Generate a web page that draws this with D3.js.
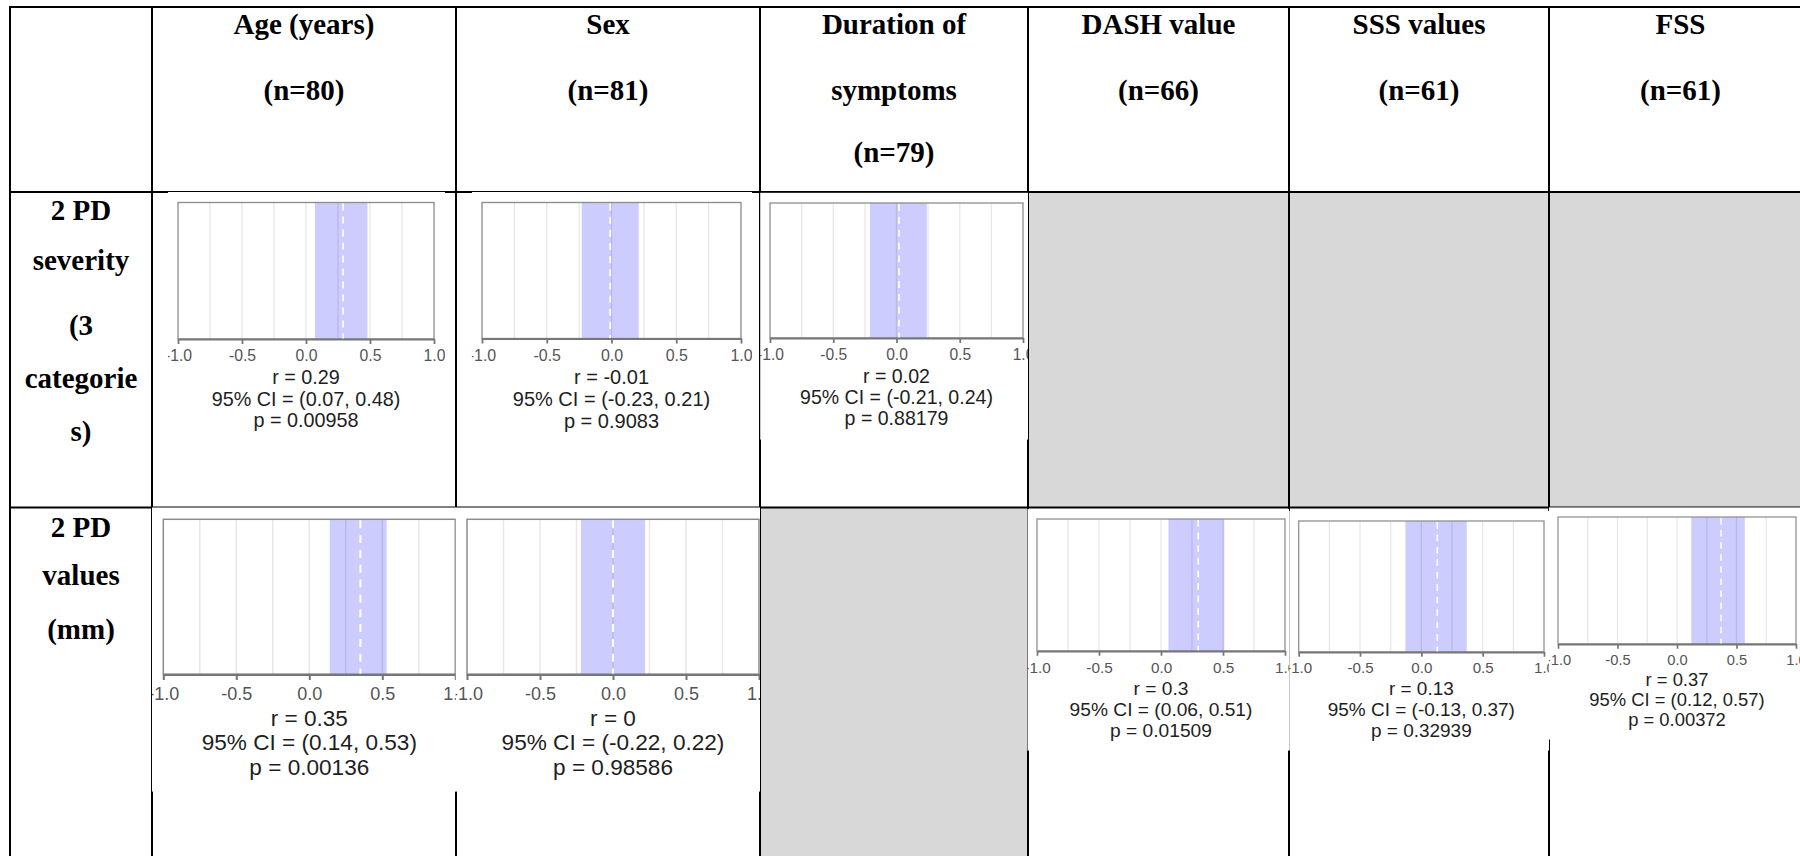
<!DOCTYPE html>
<html><head><meta charset="utf-8">
<script src="https://cdn.jsdelivr.net/npm/d3@7"></script>
<style>html,body{margin:0;padding:0;background:#fff;} svg{display:block}</style>
</head><body>
<svg id="chart" width="1800" height="856"></svg>
<script>
// ---------------- data ----------------
const columnTitles = [
  ["Age (years)", "(n=80)"],
  ["Sex", "(n=81)"],
  ["Duration of", "symptoms", "(n=79)"],
  ["DASH value", "(n=66)"],
  ["SSS values", "(n=61)"],
  ["FSS", "(n=61)"]
];
const rowTitles = [
  ["2 PD", "severity", "(3", "categorie", "s)"],
  ["2 PD", "values", "(mm)"]
];
// panels: row index, variable (column) index
const panelRow = [0, 0, 0, 1, 1, 1, 1, 1];
const panelCol = [0, 1, 2, 0, 1, 3, 4, 5];
const rValues  = [0.29, -0.01, 0.02, 0.35, 0, 0.3, 0.13, 0.37];
const ciLow    = [0.07, -0.23, -0.21, 0.14, -0.22, 0.06, -0.13, 0.12];
const ciHigh   = [0.48, 0.21, 0.24, 0.53, 0.22, 0.51, 0.37, 0.57];
const pValues  = ["0.00958", "0.9083", "0.88179", "0.00136", "0.98586", "0.01509", "0.32939", "0.00372"];
const axisTicks = [-1, -0.5, 0, 0.5, 1];
const gridTicks = [-0.75, -0.5, -0.25, 0, 0.25, 0.5, 0.75];
const emptyCells = [[0, 3], [0, 4], [0, 5], [1, 2]];

// ---------------- layout ----------------
// table column edges: [label column, 6 variable columns, beyond right edge]
const colEdges = [10, 152, 456, 760, 1028, 1289, 1549, 1812];
const rowEdges = [7, 192, 507.5, 860];
const headerBaselines = [34, 100, 162];
const rowLabelBaselines = [[220, 270, 335, 388, 441], [537, 585, 639]];
const panelBoxes = [
  {x0: 178,   x1: 434,   y0: 202.5, y1: 339},
  {x0: 482,   x1: 741,   y0: 202.5, y1: 338.5},
  {x0: 770,   x1: 1023,  y0: 203,   y1: 338},
  {x0: 163.3, x1: 455.3, y0: 519.3, y1: 674.3},
  {x0: 467,   x1: 759,   y0: 519.3, y1: 674.3},
  {x0: 1037,  x1: 1285,  y0: 519,   y1: 651},
  {x0: 1298.7,x1: 1544,  y0: 521,   y1: 652},
  {x0: 1558,  x1: 1796,  y0: 517,   y1: 644}
];
const cL = c => colEdges[c + 1];   // left edge of variable column c
const cR = c => colEdges[c + 2];   // right edge of variable column c

const svg = d3.select("#chart");
svg.append("rect").attr("width", 1800).attr("height", 856).attr("fill", "#fff");

// grey empty cells
svg.selectAll("rect.empty").data(emptyCells).join("rect")
  .attr("class", "empty")
  .attr("x", d => cL(d[1]))
  .attr("y", d => rowEdges[d[0] + 1])
  .attr("width", d => cR(d[1]) - cL(d[1]))
  .attr("height", d => rowEdges[d[0] + 2] - rowEdges[d[0] + 1])
  .attr("fill", "#d8d8d8");

// grid lines
const grid = svg.append("g").attr("stroke", "#000").attr("stroke-width", 2);
rowEdges.slice(0, 3).forEach(y => grid.append("line")
  .attr("x1", colEdges[0] - 1).attr("x2", 1812).attr("y1", y).attr("y2", y));
colEdges.slice(0, 7).forEach(x => grid.append("line")
  .attr("x1", x).attr("x2", x).attr("y1", rowEdges[0] - 1).attr("y2", 860));

// headers
const serif = "'Liberation Serif','Times New Roman',Times,serif";
columnTitles.forEach((lines, c) => {
  const cx = (cL(c) + cR(c)) / 2;
  lines.forEach((t, k) => svg.append("text")
    .attr("x", cx).attr("y", headerBaselines[k])
    .attr("text-anchor", "middle").attr("font-family", serif)
    .attr("font-weight", "bold").attr("font-size", 29).attr("fill", "#000")
    .text(t));
});
rowTitles.forEach((lines, r) => {
  const cx = (colEdges[0] + colEdges[1]) / 2;
  lines.forEach((t, k) => svg.append("text")
    .attr("x", cx).attr("y", rowLabelBaselines[r][k])
    .attr("text-anchor", "middle").attr("font-family", serif)
    .attr("font-weight", "bold").attr("font-size", 29).attr("fill", "#000")
    .text(t));
});

// panels
const sans = "'Liberation Sans',Arial,Helvetica,sans-serif";
const defs = svg.append("defs");
panelBoxes.forEach((b, i) => {
  const s = (b.x1 - b.x0) / 256;
  const col = panelCol[i];
  const left = b.x0 - 10 * s;
  const right = Math.min(b.x1 + 11 * s, cR(col));
  const top = b.y0 - 10.5 * s;
  const bottom = b.y1 + 103 * s;
  defs.append("clipPath").attr("id", "clip" + i).append("rect")
    .attr("x", left).attr("y", top).attr("width", right - left).attr("height", bottom - top);
  const g = svg.append("g").attr("clip-path", `url(#clip${i})`);
  g.append("rect").attr("x", left).attr("y", top)
    .attr("width", right - left).attr("height", bottom - top).attr("fill", "#fff");

  const x = d3.scaleLinear().domain([-1, 1]).range([b.x0, b.x1]);

  // CI band
  g.append("rect")
    .attr("x", x(ciLow[i])).attr("y", b.y0)
    .attr("width", x(ciHigh[i]) - x(ciLow[i])).attr("height", b.y1 - b.y0)
    .attr("fill", "#ccccff");
  // gridlines
  g.selectAll("line.gl").data(gridTicks).join("line")
    .attr("class", "gl")
    .attr("x1", d => x(d)).attr("x2", d => x(d))
    .attr("y1", b.y0).attr("y2", b.y1)
    .attr("stroke", "rgba(0,0,0,0.09)").attr("stroke-width", 1.4 * s);
  // box
  g.append("rect").attr("x", b.x0).attr("y", b.y0)
    .attr("width", b.x1 - b.x0).attr("height", b.y1 - b.y0)
    .attr("fill", "none").attr("stroke", "#8c8c8c").attr("stroke-width", 1.3 * s);
  // r line
  g.append("line")
    .attr("x1", x(rValues[i])).attr("x2", x(rValues[i]))
    .attr("y1", b.y0 + 1).attr("y2", b.y1)
    .attr("stroke", "#fff").attr("stroke-width", 1.7 * s)
    .attr("stroke-dasharray", `${7 * s},${6 * s}`);
  // axis
  const tickFont = 15.8 * s;
  const ax = g.append("g").attr("transform", `translate(0,${b.y1})`)
    .call(d3.axisBottom(x).tickValues(axisTicks)
      .tickFormat(d => d.toFixed(1))
      .tickSize(5 * s).tickSizeOuter(0)
      .tickPadding(22.3 * s - 5 * s - 0.71 * tickFont));
  ax.select(".domain").attr("stroke", "#767676").attr("stroke-width", 2 * s);
  ax.selectAll(".tick line").attr("stroke", "#767676").attr("stroke-width", 1.8 * s);
  ax.selectAll(".tick text").attr("fill", "#555").attr("font-size", tickFont)
    .attr("font-family", sans);

  // caption
  const cx = (b.x0 + b.x1) / 2;
  const lines = [
    "r = " + String(rValues[i]),
    "95% CI = (" + ciLow[i].toFixed(2) + ", " + ciHigh[i].toFixed(2) + ")",
    "p = " + pValues[i]
  ];
  const offs = [45.3, 66.8, 88.3];
  lines.forEach((t, k) => g.append("text")
    .attr("x", cx).attr("y", b.y1 + offs[k] * s)
    .attr("text-anchor", "middle").attr("font-family", sans)
    .attr("font-size", 19.8 * s).attr("fill", "#1e1e1e")
    .text(t));
});
</script>
</body></html>
